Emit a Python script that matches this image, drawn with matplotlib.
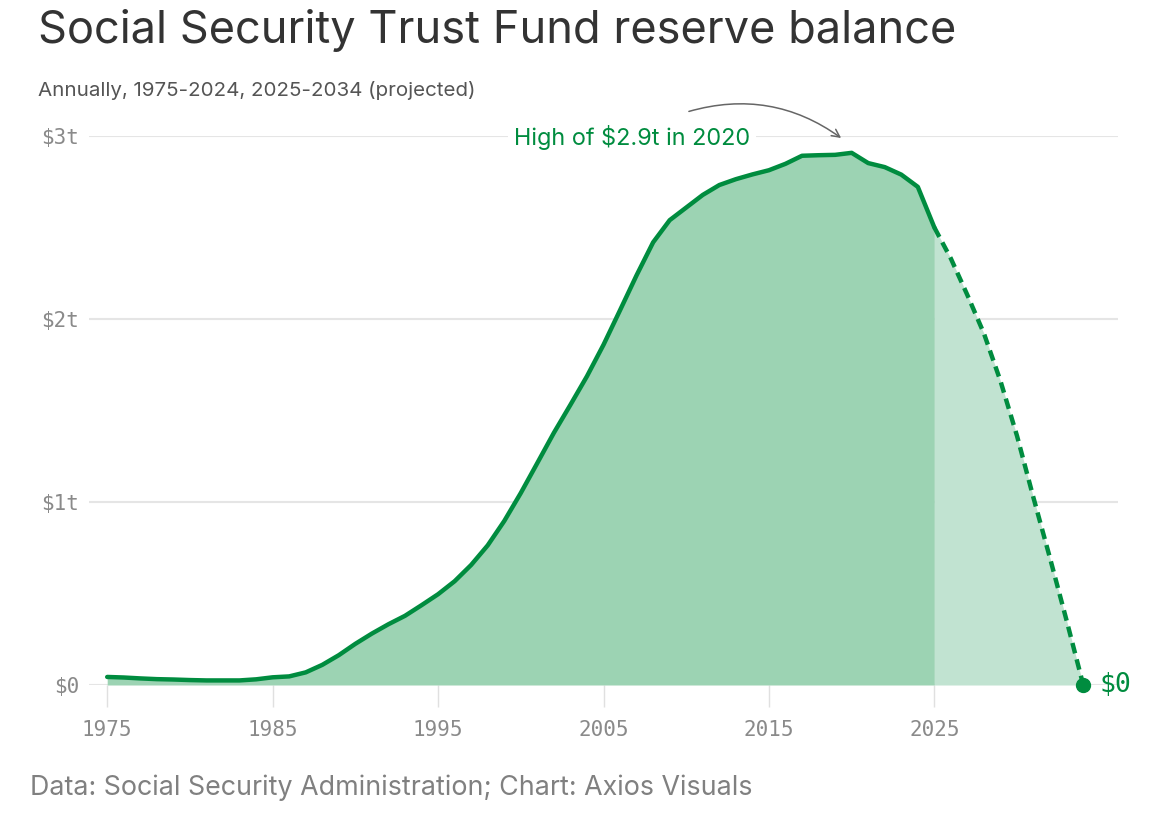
import numpy as np
import matplotlib.pyplot as plt

# OASDI reserves, trillions of dollars
years_actual = list(range(1975, 2026))
reserves_actual = [0.044, 0.041, 0.036, 0.032, 0.030, 0.027, 0.025, 0.025, 0.025, 0.031,
                   0.042, 0.047, 0.069, 0.110, 0.163, 0.225, 0.281, 0.332, 0.378, 0.436,
                   0.496, 0.567, 0.656, 0.763, 0.896, 1.049, 1.213, 1.378, 1.531, 1.687,
                   1.859, 2.048, 2.239, 2.419, 2.540, 2.609, 2.678, 2.732, 2.764, 2.790,
                   2.813, 2.848, 2.892, 2.895, 2.897, 2.908, 2.852, 2.830, 2.789, 2.722,
                   2.50]
years_proj = list(range(2025, 2035))
reserves_proj = [2.50, 2.33, 2.13, 1.92, 1.66, 1.36, 1.02, 0.69, 0.35, 0.0]

xticks = [1975, 1985, 1995, 2005, 2015, 2025]
yticks = [0, 1, 2, 3]
ytick_labels = ['$0', '$1t', '$2t', '$3t']

green = '#008c3f'
fill_actual = '#9cd3b3'
fill_proj = '#c1e3d1'
mono = 'DejaVu Sans Mono'
sans = ['Inter', 'DejaVu Sans']

fig = plt.figure(figsize=(11.7, 8.24), dpi=100)
ax = fig.add_axes([89 / 1170, 1 - 685 / 824, (1118 - 89) / 1170, (685 - 136) / 824])

ax.fill_between(years_actual, reserves_actual, 0, color=fill_actual, lw=0, zorder=2)
ax.fill_between(years_proj, reserves_proj, 0, color=fill_proj, lw=0, zorder=2)
ax.plot(years_actual, reserves_actual, color=green, lw=3.2, solid_capstyle='round',
        solid_joinstyle='round', zorder=4, clip_on=False)
ax.plot(years_proj, reserves_proj, color=green, lw=3.2, linestyle=(0, (2.4, 1.4)),
        zorder=4, clip_on=False)
ax.plot([years_proj[-1]], [reserves_proj[-1]], 'o', color=green, ms=10, zorder=5, clip_on=False)
ax.text(years_proj[-1] + 1.0, 0, '$0', color=green, fontsize=19, family=mono,
        va='center', ha='left')

ax.set_xlim(1973.9, 2036.1)
ax.set_ylim(0, 3)
ax.set_xticks(xticks)
ax.set_yticks(yticks)
ax.set_yticklabels(ytick_labels)
ax.grid(axis='y', color='#e5e5e5', lw=1.5, zorder=1)
ax.tick_params(axis='y', length=0, pad=7, labelsize=15, labelcolor='#8a8a8a')
ax.tick_params(axis='x', length=16, width=1, color='#e0e0e0', pad=9,
               labelsize=15, labelcolor='#8a8a8a')
for lab in ax.get_xticklabels() + ax.get_yticklabels():
    lab.set_family(mono)
for s in ax.spines.values():
    s.set_visible(False)
ax.set_axisbelow(True)

# peak annotation
ax.text(2006.7, 2.99, 'High of $2.9t in 2020', color=green, fontsize=16.9, family=sans,
        ha='center', va='center', zorder=6,
        bbox=dict(boxstyle='square,pad=0.25', fc='white', ec='none'))
ax.annotate('', xy=(2019.5, 2.98), xytext=(2010.0, 3.13), annotation_clip=False,
            arrowprops=dict(arrowstyle='->', color='#666666', lw=1.1,
                            connectionstyle='arc3,rad=-0.25', mutation_scale=14))

fig.text(38 / 1170, 1 - 30 / 824, 'Social Security Trust Fund reserve balance',
         fontsize=32.5, color='#333333', family=sans, va='center', ha='left')
fig.text(38 / 1170, 1 - 90 / 824, 'Annually, 1975-2024, 2025-2034 (projected)',
         fontsize=14.8, color='#555555', family=sans, va='center', ha='left')
fig.text(30 / 1170, 1 - 788 / 824, 'Data: Social Security Administration; Chart: Axios Visuals',
         fontsize=19.3, color='#808080', family=sans, va='center', ha='left')

fig.savefig('out.png', dpi=100)
